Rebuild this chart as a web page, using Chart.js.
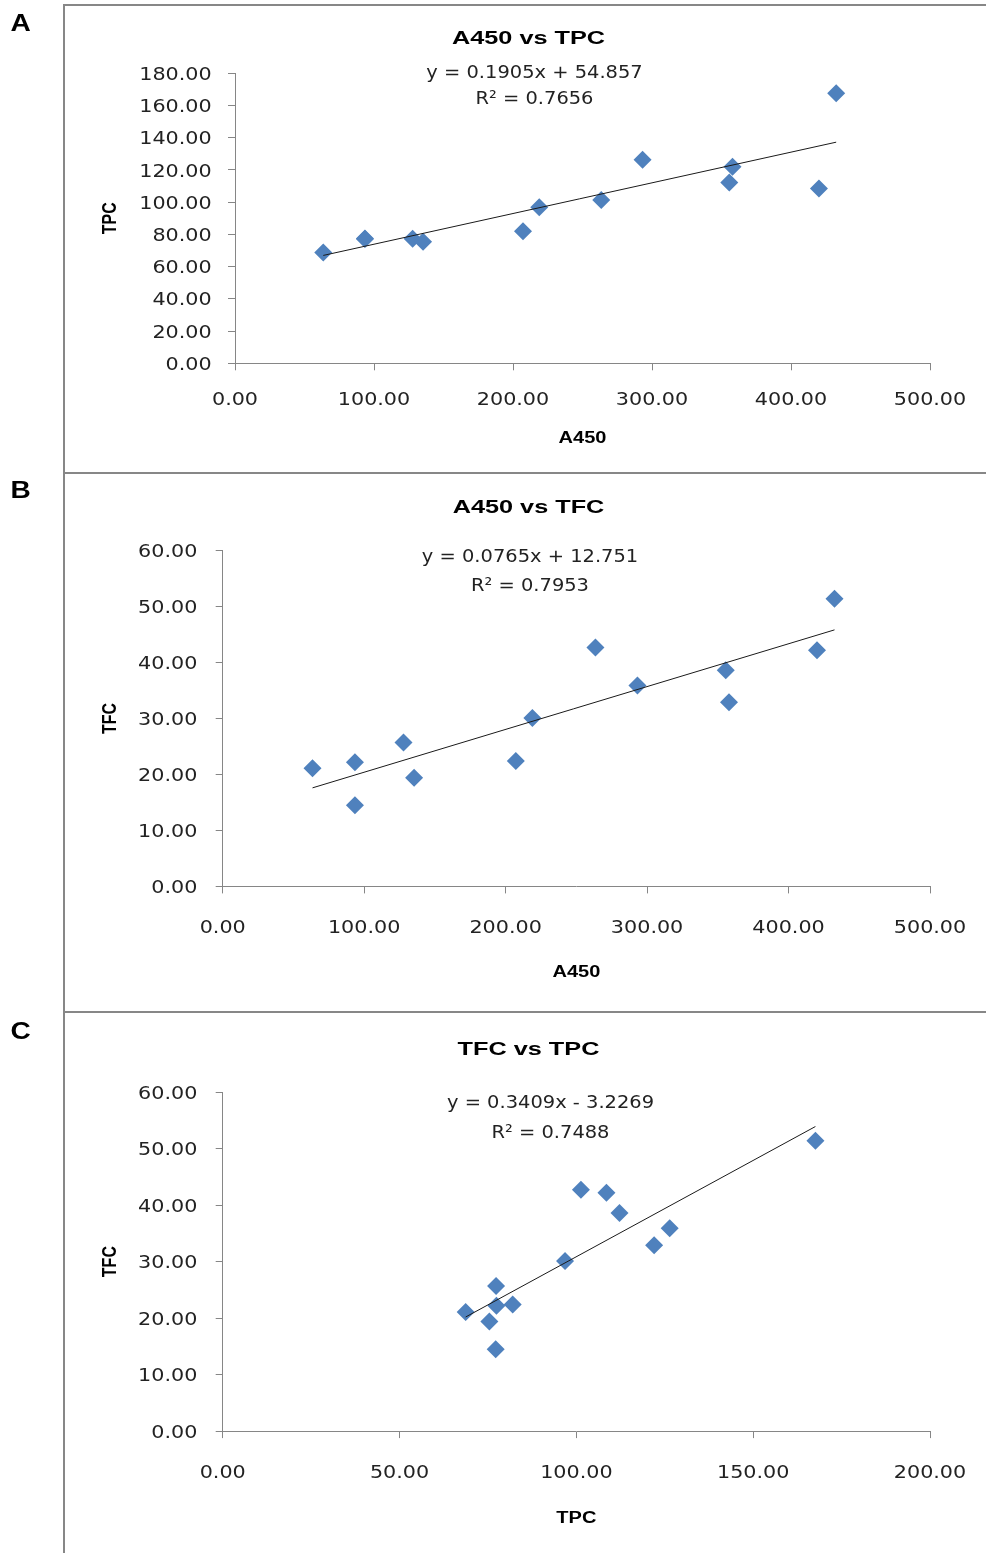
<!DOCTYPE html>
<html>
<head>
<meta charset="utf-8">
<title>A450, TPC and TFC correlations</title>
<script src="https://cdn.jsdelivr.net/npm/chart.js@4.4.1/dist/chart.umd.min.js"></script>
<style>
  body { margin: 0; background: #fff; }
  #page { position: relative; width: 986px; height: 1553px; }
  canvas { position: absolute; left: 0; }
</style>
</head>
<body>
<div id="page">
  <canvas id="chart-a" width="986" height="473" style="top:0"></canvas>
  <canvas id="chart-b" width="986" height="540" style="top:472px"></canvas>
  <canvas id="chart-c" width="986" height="542" style="top:1011px"></canvas>
</div>
<script>
// one entry per extract
const a450 = [63.5, 93.5, 93.5, 127.8, 135.3, 207.2, 218.9, 263.5, 293.2, 355.6, 357.9, 420.1, 432.5];
const tpc = [68.7, 77.4, 77.2, 77.3, 75.4, 82.0, 96.8, 101.3, 126.4, 112.2, 122.0, 108.5, 167.6];
const tfc = [21.1, 22.2, 14.5, 25.7, 19.4, 22.4, 30.1, 42.7, 35.9, 38.6, 32.9, 42.2, 51.4];

// linear fits: [slope, intercept], and their R²
const fitA450Tpc = [0.1905, 54.857];
const fitA450Tfc = [0.0765, 12.751];
const fitTpcTfc = [0.3409, -3.2269];
const r2Values = [0.7656, 0.7953, 0.7488];

// axis ticks
const a450Ticks = [0, 100, 200, 300, 400, 500];
const tpcTicksY = [0, 20, 40, 60, 80, 100, 120, 140, 160, 180];
const tpcTicksX = [0, 50, 100, 150, 200];
const tfcTicks = [0, 10, 20, 30, 40, 50, 60];

const panelTitles = ["A450 vs TPC", "A450 vs TFC", "TFC vs TPC"];

const AXIS_GREY = "#868686";
const FRAME_GREY = "#878787";
const MARKER_BLUE = "#4F81BD";

const TICK = { weight: "normal", size: 18, family: '"DejaVu Sans"', sx: 1.15, cap: 0.729, color: "#222" };
const EQ = { weight: "normal", size: 18, family: '"DejaVu Sans"', sx: 1.08, cap: 0.729, color: "#222" };
const TITLE = { weight: "bold", size: 19, family: '"Liberation Sans"', sx: 1.33, cap: 0.716, color: "#000" };
const AXIS = { weight: "bold", size: 16, family: '"Liberation Sans"', sx: 1.25, cap: 0.716, color: "#000" };
const AXIS_V = Object.assign({}, AXIS, { rotate: true });
const LETTER = { weight: "bold", size: 23, family: '"Liberation Sans"', sx: 1.22, cap: 0.716, color: "#000" };

// text centred vertically on y, stretched horizontally by style.sx
function drawText(ctx, str, x, y, style, align = "center") {
  ctx.save();
  ctx.font = `${style.weight} ${style.size}px ${style.family}`;
  ctx.fillStyle = style.color;
  ctx.textAlign = align;
  ctx.textBaseline = "alphabetic";
  ctx.translate(x, y);
  ctx.scale(style.sx, 1);
  if (style.rotate) ctx.rotate(-Math.PI / 2);
  ctx.fillText(str, 0, (style.size * style.cap) / 2);
  ctx.restore();
}

function equation(fit) {
  const [m, b] = fit;
  return `y = ${m}x ${b < 0 ? "-" : "+"} ${Math.abs(b)}`;
}

function panelPlugin(p) {
  return {
    id: "panel",
    afterDraw(chart) {
      const ctx = chart.ctx;
      const area = chart.chartArea;
      const xs = chart.scales.x;
      const ys = chart.scales.y;

      // frame: left and top rules
      ctx.save();
      ctx.fillStyle = FRAME_GREY;
      ctx.fillRect(63, p.frameTop, 2, chart.height - p.frameTop);
      ctx.fillRect(63, p.frameTop, chart.width - 63, 2);
      ctx.restore();

      drawText(ctx, p.letter, 20.7, p.letterY, LETTER);
      drawText(ctx, p.title, 528.5, p.titleY, TITLE);
      drawText(ctx, equation(p.fit), p.eqX, p.eqY, EQ);
      drawText(ctx, "R\u00B2 = " + p.r2, p.eqX, p.eqY + p.eqGap, EQ);

      drawText(ctx, p.xTitle, (area.left + area.right) / 2, p.xTitleY, AXIS);
      drawText(ctx, p.yTitle, 109, (area.top + area.bottom) / 2, AXIS_V);

      xs.ticks.forEach(t => {
        drawText(ctx, t.value.toFixed(2), xs.getPixelForValue(t.value), area.bottom + p.xLabelGap, TICK);
      });
      ys.ticks.forEach(t => {
        drawText(ctx, t.value.toFixed(2), area.left - p.yLabelGap, ys.getPixelForValue(t.value), TICK, "right");
      });
    },
  };
}

function makeChart(id, xData, yData, xTicks, yTicks, p) {
  const canvas = document.getElementById(id);
  const points = xData.map((x, i) => ({ x: x, y: yData[i] }));
  const x0 = Math.min(...xData);
  const x1 = Math.max(...xData);
  const trend = [x0, x1].map(x => ({ x: x, y: p.fit[0] * x + p.fit[1] }));

  const axis = (ticks, fitBox) => ({
    type: "linear",
    min: ticks[0],
    max: ticks[ticks.length - 1],
    afterBuildTicks: s => {
      s.ticks = ticks.map(v => ({ value: v }));
    },
    afterFit: fitBox,
    grid: { display: true, drawOnChartArea: false, drawTicks: true, tickLength: 7, color: AXIS_GREY, lineWidth: 1 },
    border: { display: true, color: AXIS_GREY, width: 1 },
    ticks: { display: false },
  });

  return new Chart(canvas, {
    type: "scatter",
    data: {
      datasets: [
        {
          data: trend,
          showLine: true,
          borderColor: "#1a1a1a",
          borderWidth: 1,
          pointRadius: 0,
          order: 0,
        },
        {
          data: points,
          pointStyle: "rectRot",
          pointRadius: 9,
          backgroundColor: MARKER_BLUE,
          borderColor: MARKER_BLUE,
          borderWidth: 0,
          order: 1,
        },
      ],
    },
    options: {
      responsive: false,
      devicePixelRatio: 1,
      animation: false,
      events: [],
      layout: { padding: { left: 0, top: p.top, right: canvas.width - 930, bottom: 0 } },
      scales: {
        x: axis(xTicks, s => { s.height = canvas.height - p.bottom; }),
        y: axis(yTicks, s => { s.width = p.left; }),
      },
      plugins: {
        legend: { display: false },
        tooltip: { enabled: false },
        title: { display: false },
      },
    },
    plugins: [panelPlugin(p)],
  });
}

makeChart("chart-a", a450, tpc, a450Ticks, tpcTicksY, {
  letter: "A", title: panelTitles[0], xTitle: "A450", yTitle: "TPC",
  fit: fitA450Tpc, r2: r2Values[0],
  frameTop: 4, letterY: 22.3, titleY: 36.7,
  eqX: 534.5, eqY: 71, eqGap: 26,
  left: 235, top: 73.3, bottom: 363.3,
  xTitleY: 436.8, xLabelGap: 35, yLabelGap: 23.3,
});

makeChart("chart-b", a450, tfc, a450Ticks, tfcTicks, {
  letter: "B", title: panelTitles[1], xTitle: "A450", yTitle: "TFC",
  fit: fitA450Tfc, r2: r2Values[1],
  frameTop: 0, letterY: 18, titleY: 34.5,
  eqX: 530, eqY: 83, eqGap: 29,
  left: 222.7, top: 78.6, bottom: 414.4,
  xTitleY: 498.9, xLabelGap: 39.7, yLabelGap: 25.4,
});

makeChart("chart-c", tpc, tfc, tpcTicksX, tfcTicks, {
  letter: "C", title: panelTitles[2], xTitle: "TPC", yTitle: "TFC",
  fit: fitTpcTfc, r2: r2Values[2],
  frameTop: 0, letterY: 19.5, titleY: 37,
  eqX: 550.5, eqY: 90, eqGap: 30,
  left: 222.7, top: 81.1, bottom: 420.1,
  xTitleY: 506, xLabelGap: 40.3, yLabelGap: 25.4,
});
</script>
</body>
</html>
